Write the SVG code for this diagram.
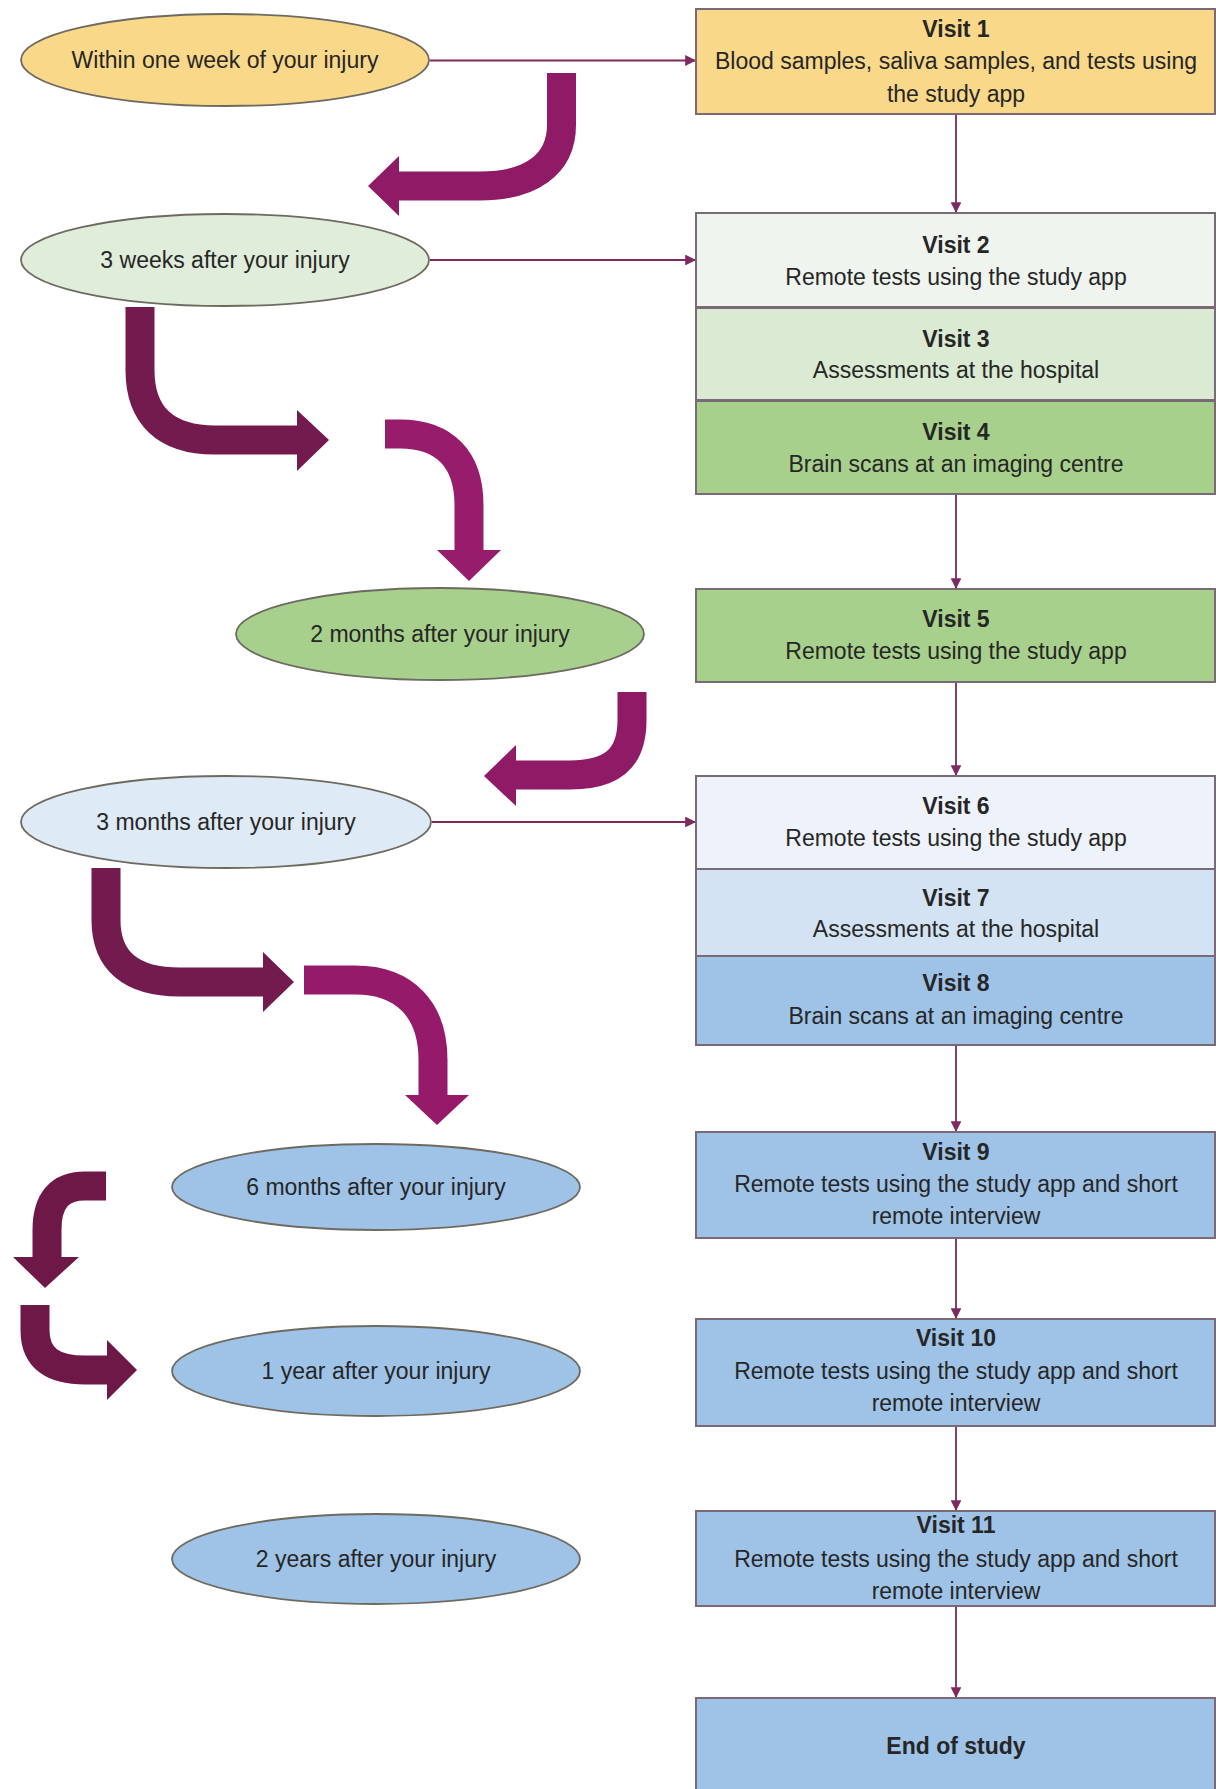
<svg xmlns="http://www.w3.org/2000/svg" width="1216" height="1789" viewBox="0 0 1216 1789">
<style>
  .box { stroke: #7a6a75; stroke-width: 2; }
  .ell { stroke: #6e6a60; stroke-width: 1.8; }
  .t { font-family: "Liberation Sans", Arial, sans-serif; font-size: 23px; fill: #262626; text-anchor: middle; }
  .b { font-weight: bold; }
  .conn { stroke: #7e2a60; stroke-width: 1.8; fill: none; }
  .big { fill: none; stroke-width: 29; stroke-linecap: butt; }
</style>
<defs>
  <marker id="ah" viewBox="0 0 10 10" refX="10" refY="5" markerWidth="6" markerHeight="6" orient="auto" markerUnits="strokeWidth">
    <path d="M0,0 L10,5 L0,10 z" fill="#7e2a60"/>
  </marker>
</defs>
<rect width="1216" height="1789" fill="#ffffff"/>

<g id="connectors">
  <line class="conn" x1="430" y1="60.5" x2="696" y2="60.5" marker-end="url(#ah)"/>
  <line class="conn" x1="430" y1="260" x2="696" y2="260" marker-end="url(#ah)"/>
  <line class="conn" x1="432" y1="822" x2="696" y2="822" marker-end="url(#ah)"/>
  <line class="conn" x1="956" y1="114" x2="956" y2="213" marker-end="url(#ah)"/>
  <line class="conn" x1="956" y1="494" x2="956" y2="589" marker-end="url(#ah)"/>
  <line class="conn" x1="956" y1="682" x2="956" y2="776" marker-end="url(#ah)"/>
  <line class="conn" x1="956" y1="1045" x2="956" y2="1132" marker-end="url(#ah)"/>
  <line class="conn" x1="956" y1="1238" x2="956" y2="1319" marker-end="url(#ah)"/>
  <line class="conn" x1="956" y1="1426" x2="956" y2="1511" marker-end="url(#ah)"/>
  <line class="conn" x1="956" y1="1606" x2="956" y2="1698" marker-end="url(#ah)"/>

  <g id="arrowA">
    <path class="big" stroke="#8f1b66" d="M561.5,73 L561.5,125 C561.5,165 530,186 480,186 L398,186"/>
    <polygon fill="#8f1b66" points="399,156 368,186 399,216"/>
  </g>
  <g id="arrowB">
    <path class="big" stroke="#731a4e" d="M140,307 L140,370 C140,415 165,440 215,440 L298,440"/>
    <polygon fill="#731a4e" points="297,410 329,440 297,471"/>
  </g>
  <g id="arrowC">
    <path class="big" stroke="#981c6c" d="M385,434 L400,434 C445,434 469,460 469,505 L469,551"/>
    <polygon fill="#981c6c" points="437,550 501,550 469,581"/>
  </g>
  <g id="arrowD">
    <path class="big" stroke="#8f1b66" d="M632,692 L632,720 C632,760 610,775 570,775 L515,775"/>
    <polygon fill="#8f1b66" points="516,745 484,776 516,806"/>
  </g>
  <g id="arrowE">
    <path class="big" stroke="#731a4e" d="M106,868 L106,920 C106,960 130,982 180,982 L264,982"/>
    <polygon fill="#731a4e" points="263,952 294,982 263,1012"/>
  </g>
  <g id="arrowF">
    <path class="big" stroke="#951b6a" d="M304,980 L355,980 C405,980 433,1010 433,1060 L433,1096"/>
    <polygon fill="#951b6a" points="405,1095 469,1095 437,1125"/>
  </g>
  <g id="arrowG">
    <path class="big" stroke="#6e1848" d="M106,1186 L85,1186 C60,1186 47,1200 47,1230 L47,1258"/>
    <polygon fill="#6e1848" points="13,1257 79,1257 45,1288"/>
  </g>
  <g id="arrowH">
    <path class="big" stroke="#6e1848" d="M35,1305 L35,1330 C35,1360 55,1370 85,1370 L108,1370"/>
    <polygon fill="#6e1848" points="107,1340 137,1370 107,1400"/>
  </g>
</g>

<g id="e1"><ellipse class="ell" cx="225" cy="60" rx="204" ry="46" fill="#fad88a"/><text class="t" x="225" y="68">Within one week of your injury</text></g>
<g id="e2"><ellipse class="ell" cx="225" cy="260" rx="204" ry="46" fill="#e0edda"/><text class="t" x="225" y="268">3 weeks after your injury</text></g>
<g id="e3"><ellipse class="ell" cx="440" cy="634" rx="204" ry="46" fill="#a8d08d"/><text class="t" x="440" y="642">2 months after your injury</text></g>
<g id="e4"><ellipse class="ell" cx="226" cy="822" rx="205" ry="46" fill="#deeaf6"/><text class="t" x="226" y="830">3 months after your injury</text></g>
<g id="e5"><ellipse class="ell" cx="376" cy="1187" rx="204" ry="43" fill="#9ec3e6"/><text class="t" x="376" y="1195">6 months after your injury</text></g>
<g id="e6"><ellipse class="ell" cx="376" cy="1371" rx="204" ry="45" fill="#9ec3e6"/><text class="t" x="376" y="1379">1 year after your injury</text></g>
<g id="e7"><ellipse class="ell" cx="376" cy="1559" rx="204" ry="45" fill="#9ec3e6"/><text class="t" x="376" y="1567">2 years after your injury</text></g>

<g id="v1"><rect class="box" x="696" y="9" width="519" height="105" fill="#fad88a"/>
  <text class="t b" x="956" y="37">Visit 1</text>
  <text class="t" x="956" y="69">Blood samples, saliva samples, and tests using</text>
  <text class="t" x="956" y="102">the study app</text></g>
<g id="v2"><rect class="box" x="696" y="213" width="519" height="94" fill="#eff4ee"/>
  <text class="t b" x="956" y="253">Visit 2</text>
  <text class="t" x="956" y="285">Remote tests using the study app</text></g>
<g id="v3"><rect class="box" x="696" y="308" width="519" height="92" fill="#daead3"/>
  <text class="t b" x="956" y="347">Visit 3</text>
  <text class="t" x="956" y="378">Assessments at the hospital</text></g>
<g id="v4"><rect class="box" x="696" y="401" width="519" height="93" fill="#a8d08d"/>
  <text class="t b" x="956" y="440">Visit 4</text>
  <text class="t" x="956" y="472">Brain scans at an imaging centre</text></g>
<g id="v5"><rect class="box" x="696" y="589" width="519" height="93" fill="#a8d08d"/>
  <text class="t b" x="956" y="627">Visit 5</text>
  <text class="t" x="956" y="659">Remote tests using the study app</text></g>
<g id="v6"><rect class="box" x="696" y="776" width="519" height="93" fill="#eef2fa"/>
  <text class="t b" x="956" y="814">Visit 6</text>
  <text class="t" x="956" y="846">Remote tests using the study app</text></g>
<g id="v7"><rect class="box" x="696" y="869" width="519" height="87" fill="#d3e3f3"/>
  <text class="t b" x="956" y="906">Visit 7</text>
  <text class="t" x="956" y="937">Assessments at the hospital</text></g>
<g id="v8"><rect class="box" x="696" y="956" width="519" height="89" fill="#9ec3e6"/>
  <text class="t b" x="956" y="991">Visit 8</text>
  <text class="t" x="956" y="1024">Brain scans at an imaging centre</text></g>
<g id="v9"><rect class="box" x="696" y="1132" width="519" height="106" fill="#9ec3e6"/>
  <text class="t b" x="956" y="1160">Visit 9</text>
  <text class="t" x="956" y="1192">Remote tests using the study app and short</text>
  <text class="t" x="956" y="1224">remote interview</text></g>
<g id="v10"><rect class="box" x="696" y="1319" width="519" height="107" fill="#9ec3e6"/>
  <text class="t b" x="956" y="1346">Visit 10</text>
  <text class="t" x="956" y="1379">Remote tests using the study app and short</text>
  <text class="t" x="956" y="1411">remote interview</text></g>
<g id="v11"><rect class="box" x="696" y="1511" width="519" height="95" fill="#9ec3e6"/>
  <text class="t b" x="956" y="1533">Visit 11</text>
  <text class="t" x="956" y="1567">Remote tests using the study app and short</text>
  <text class="t" x="956" y="1599">remote interview</text></g>
<g id="end"><rect class="box" x="696" y="1698" width="519" height="100" fill="#9ec3e6"/>
  <text class="t b" x="956" y="1754">End of study</text></g>
</svg>
